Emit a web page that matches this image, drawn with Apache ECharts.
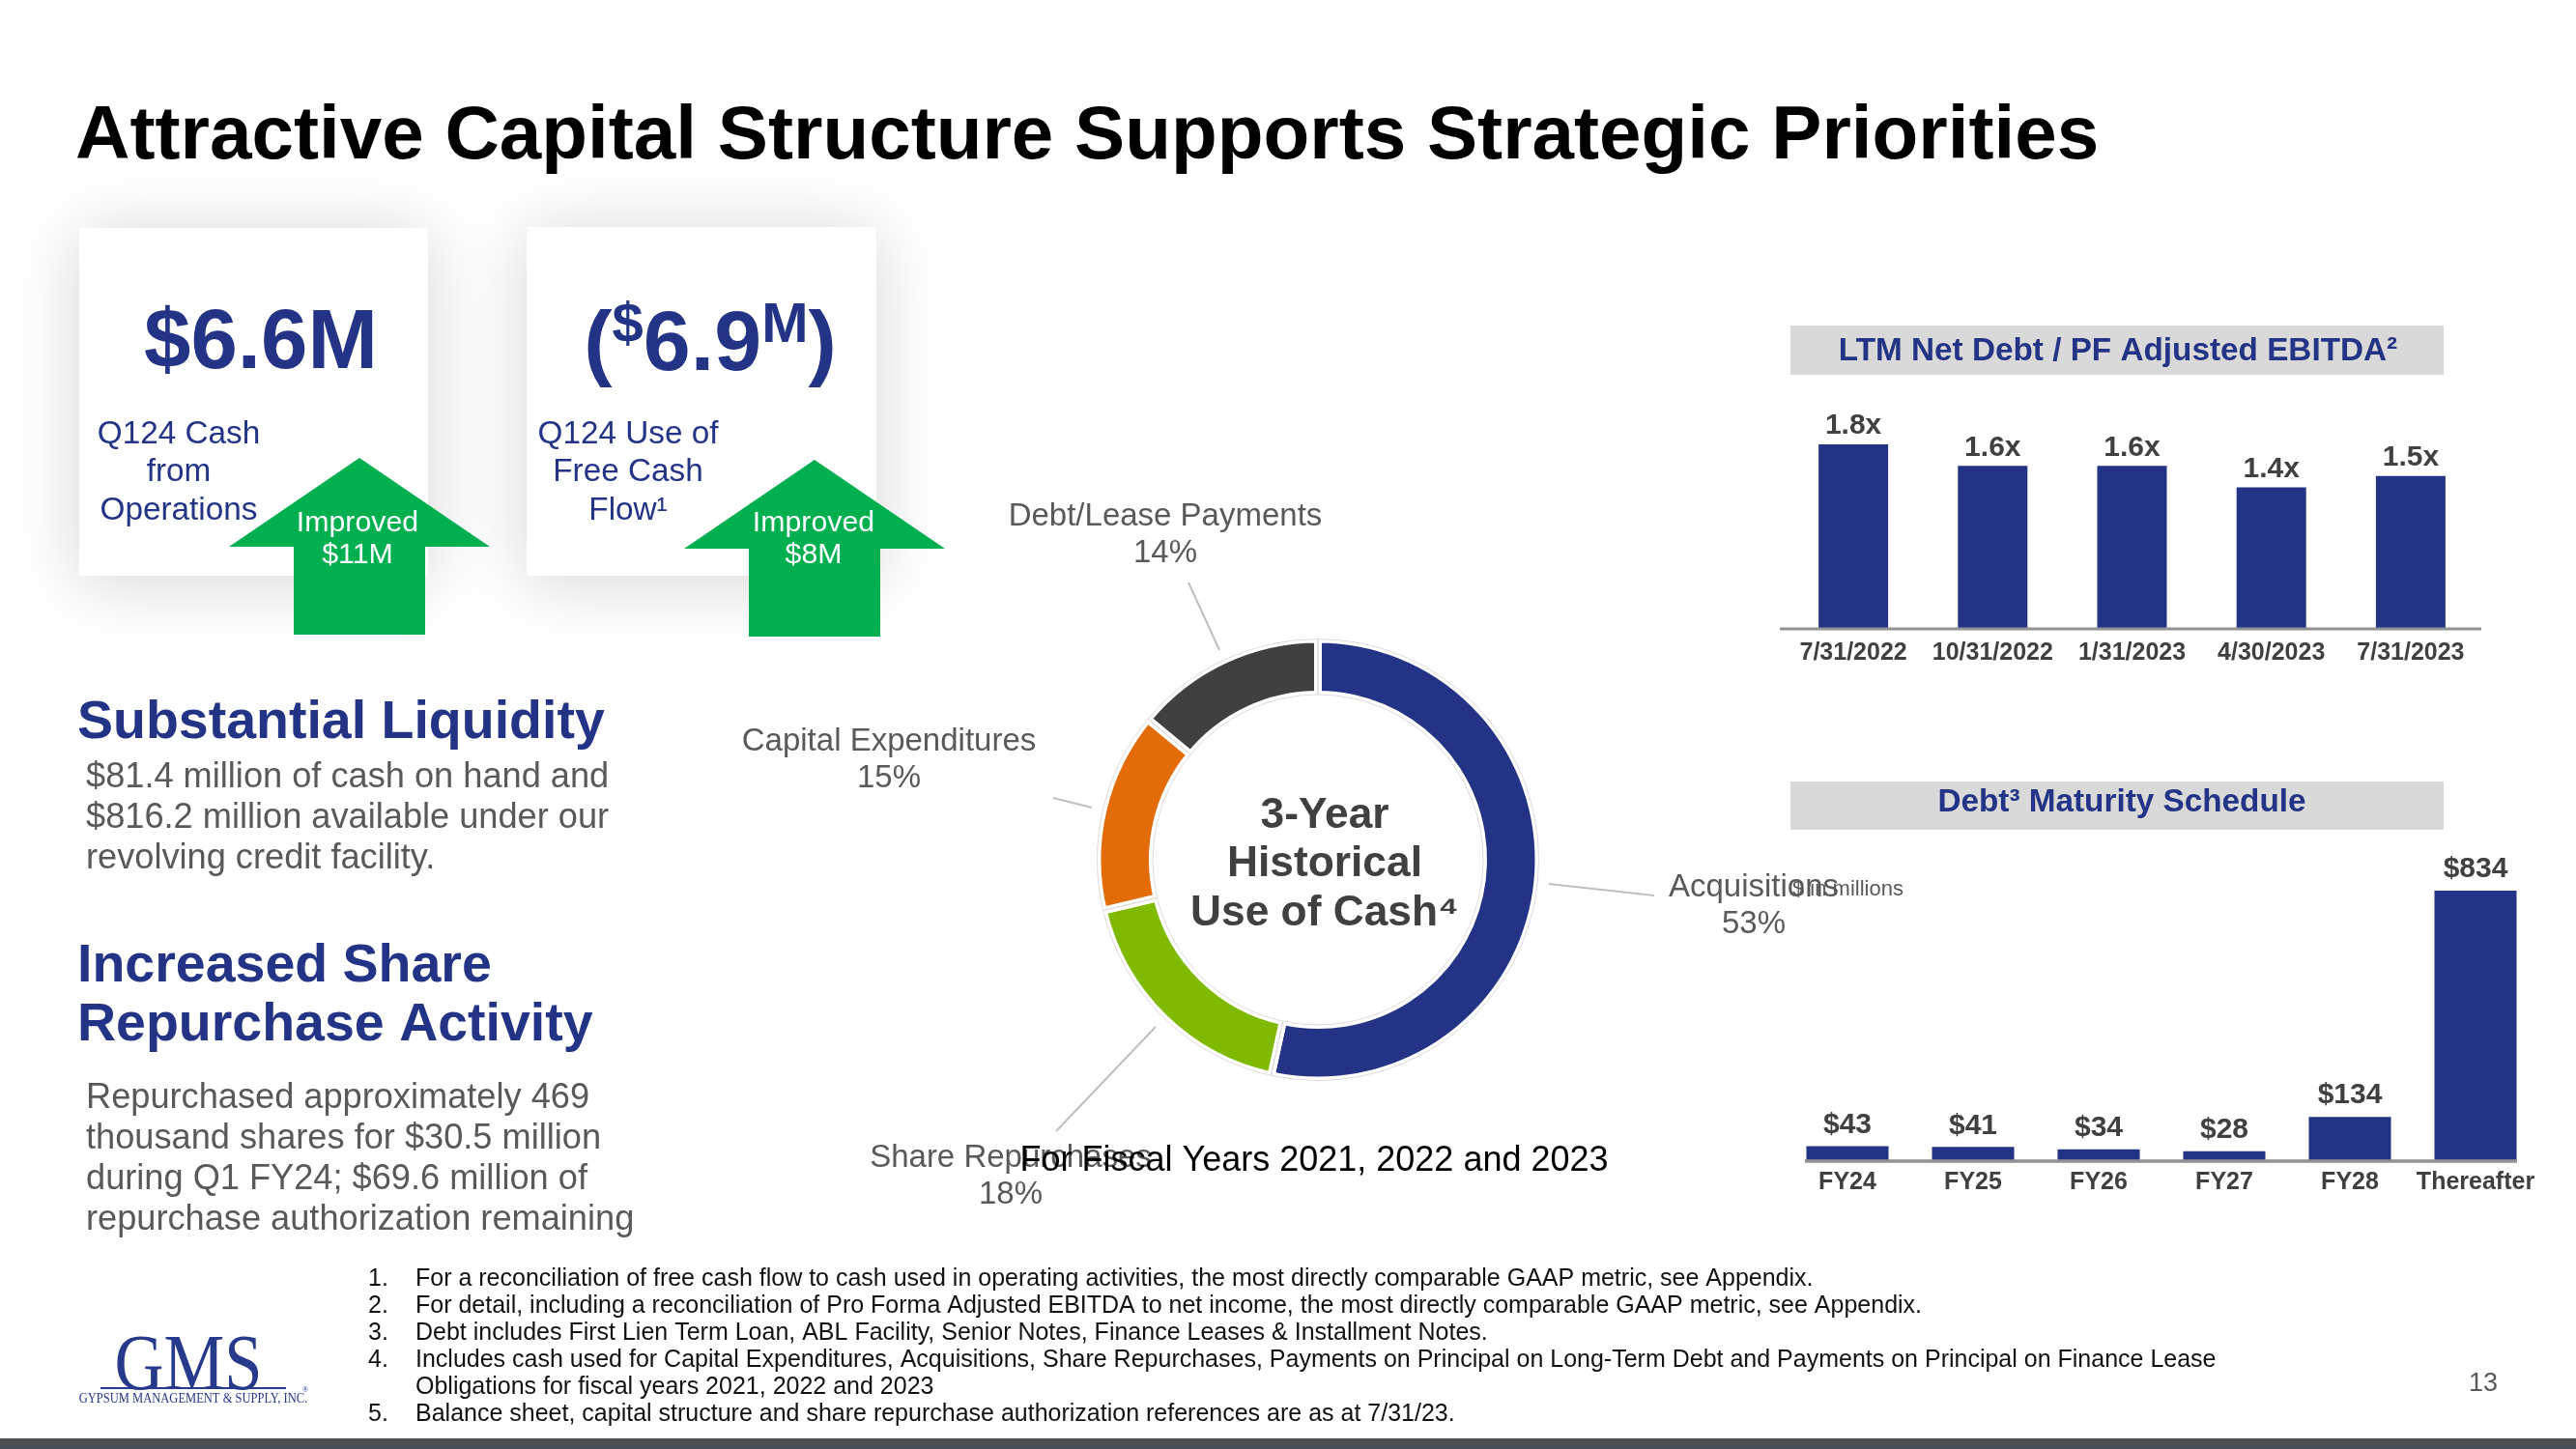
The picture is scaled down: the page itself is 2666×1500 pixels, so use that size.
<!DOCTYPE html>
<html>
<head>
<meta charset="utf-8">
<style>html,body{margin:0;padding:0;background:#fff}#c{width:2666px;height:1500px}</style>
<script src="https://cdn.jsdelivr.net/npm/echarts@6/dist/echarts.min.js"></script>
</head>
<body>
<div id="c"></div>
<script>
const leverageDates = ['7/31/2022','10/31/2022','1/31/2023','4/30/2023','7/31/2023'];
const leverageValues = [1.8,1.59,1.59,1.38,1.49];
const maturityYears = ['FY24','FY25','FY26','FY27','FY28','Thereafter'];
const maturityValues = [43,41,34,28,134,834];
const useNames = ['Acquisitions','Share Repurchases','Capital Expenditures','Debt/Lease Payments'];
const useValues = [53.4,17.9,14.7,14.0];
const useColors = ['#233385','#7fba00','#e36c09','#404040'];
const useLabelCenters = [[1815,938],[1046,1218],[920,787],[1206,554]];
const leaderLines = [[1603,915,1712,927],[1196,1063,1093,1171],[1090,826,1130,836],[1230,603,1262,673]];
const footnotes = [
 'For a reconciliation of free cash flow to cash used in operating activities, the most directly comparable GAAP metric, see Appendix.',
 'For detail, including a reconciliation of Pro Forma Adjusted EBITDA to net income, the most directly comparable GAAP metric, see Appendix.',
 'Debt includes First Lien Term Loan, ABL Facility, Senior Notes, Finance Leases & Installment Notes.',
 'Includes cash used for Capital Expenditures, Acquisitions, Share Repurchases, Payments on Principal on Long-Term Debt and Payments on Principal on Finance Lease\nObligations for fiscal years 2021, 2022 and 2023',
 'Balance sheet, capital structure and share repurchase authorization references are as at 7/31/23.'
];
const footnoteNumbers = ['1.','2.','3.','4.','','5.'];
const NAVY='#233385', GREY='#595959', DARK='#404040', SANS='"Liberation Sans"', GREEN='#00b050';

function txt(x,y,text,size,fill,opt){
  opt=opt||{};
  const el={type:'text',z:opt.z||20,style:Object.assign({x:x,y:y,text:text,
    font:(opt.weight||'normal')+' '+size+'px '+(opt.family||SANS),fill:fill,
    align:opt.align||'left',verticalAlign:opt.va||'middle',lineHeight:opt.lh||Math.round(size*1.2)},opt.extra||{})};
  if(opt.scaleX){el.x=x;el.scaleX=opt.scaleX;el.style.x=0;}
  return el;
}
function card(x,y,w,h){
  return {type:'rect',z:1,shape:{x:x,y:y,width:w,height:h},style:{fill:'#fff',shadowBlur:70,shadowColor:'rgba(0,0,0,0.17)',shadowOffsetY:6}};
}
function arrow(tipX,tipY,wingY,wingHalf,stemHalf,bottom){
  return {type:'polygon',z:5,shape:{points:[[tipX,tipY],[tipX+wingHalf,wingY],[tipX+stemHalf,wingY],[tipX+stemHalf,bottom],[tipX-stemHalf,bottom],[tipX-stemHalf,wingY],[tipX-wingHalf,wingY]]},style:{fill:GREEN}};
}
function band(x,y,w,h){return {type:'rect',z:2,shape:{x:x,y:y,width:w,height:h},style:{fill:'#d9d9d9'}};}

const graphics = [
  {type:'rect',z:2,shape:{x:0,y:1489,width:2666,height:11},style:{fill:'#4a4f54'}},
  txt(78,142,'Attractive Capital Structure Supports Strategic Priorities',78.2,'#000',{weight:'bold'}),
  card(82,236,361,360), card(545,235,362,361),
  arrow(372,474,566,135,68,657), arrow(843,476,568,135,68,659),
  txt(270,357,'$6.6M',87,NAVY,{weight:'bold',align:'center'}),
  txt(735,359,'{a|(}{s|$}{a|6.9}{s|M}{a|)}',87,NAVY,{weight:'bold',align:'center',extra:{rich:{
    a:{font:'bold 88px '+SANS,fill:NAVY,lineHeight:100,verticalAlign:'middle'},
    s:{font:'bold 58px '+SANS,fill:NAVY,lineHeight:79,verticalAlign:'top'}}}}),
  txt(185,489,'Q124 Cash\nfrom\nOperations',33.3,NAVY,{align:'center',lh:39.5}),
  txt(650,489,'Q124 Use of\nFree Cash\nFlow¹',33.3,NAVY,{align:'center',lh:39.5}),
  txt(370,558,'Improved\n$11M',30.3,'#fff',{align:'center',lh:33}),
  txt(842,558,'Improved\n$8M',30.3,'#fff',{align:'center',lh:33}),
  txt(80,748.5,'Substantial Liquidity',55.5,NAVY,{weight:'bold'}),
  txt(89,847,'$81.4 million of cash on hand and\n$816.2 million available under our\nrevolving credit facility.',36.2,GREY,{lh:42}),
  txt(80,1031.5,'Increased Share\nRepurchase Activity',55.5,NAVY,{weight:'bold',lh:61}),
  txt(89,1200,'Repurchased approximately 469\nthousand shares for $30.5 million\nduring Q1 FY24; $69.6 million of\nrepurchase authorization remaining',36.2,GREY,{lh:42}),
  txt(1371,895,'3-Year\nHistorical\nUse of Cash⁴',44.3,DARK,{weight:'bold',align:'center',lh:50.5}),
  txt(1360,1202,'For Fiscal Years 2021, 2022 and 2023',36,'#000',{align:'center',z:30}),
  txt(1855,921,'$ in millions',22,GREY),
  band(1853,337,676,51), band(1853,809,676,50),
  txt(2192,364,'LTM Net Debt / PF Adjusted EBITDA²',33.3,NAVY,{weight:'bold',align:'center'}),
  txt(2196,831,'Debt³ Maturity Schedule',33.3,NAVY,{weight:'bold',align:'center'}),
  {type:'line',z:3,shape:{x1:1842,y1:651,x2:2568,y2:651},style:{stroke:'#929292',lineWidth:3}},
  {type:'line',z:3,shape:{x1:1868,y1:1202,x2:2605,y2:1202},style:{stroke:'#929292',lineWidth:3.5}},
  txt(2570,1433,'13',27,GREY,{align:'center'}),
  txt(195,1416,'GMS',82,'#26398a',{family:'"Liberation Serif"',align:'center',scaleX:0.86}),
  {type:'line',z:3,shape:{x1:104,y1:1437,x2:296,y2:1437},style:{stroke:'#26398a',lineWidth:2}},
  txt(200,1448,'GYPSUM MANAGEMENT & SUPPLY, INC.',15,'#26398a',{family:'"Liberation Serif"',align:'center',scaleX:0.835}),
  txt(316,1439,'®',9,'#26398a',{family:'"Liberation Serif"',align:'center'})
];
leaderLines.forEach(function(l){
  graphics.push({type:'line',z:3,shape:{x1:l[0],y1:l[1],x2:l[2],y2:l[3]},style:{stroke:'#bfbfbf',lineWidth:2}});
});
let fy=1324, num=0;
footnotes.forEach(function(t){
  const lines=t.split('\n');
  lines.forEach(function(line){
    if(footnoteNumbers[num]) graphics.push(txt(381,fy,footnoteNumbers[num],25,'#111'));
    graphics.push(txt(430,fy,line,25,'#111'));
    fy+=28; num++;
  });
});

const barLabel = function(fmt,dist){return {show:true,position:'top',distance:dist,formatter:fmt,color:DARK,fontFamily:SANS,fontWeight:'bold',fontSize:30};};
const tick = function(m){return {interval:0,margin:m,color:DARK,fontFamily:SANS,fontWeight:'bold',fontSize:25};};
const pieData = useNames.map(function(n,i){return {name:n,value:useValues[i],itemStyle:{color:useColors[i]}};});

const option = {
  animation:false,
  backgroundColor:'#fff',
  grid:[
    {left:1846,top:439,width:721,height:211},
    {left:1847,top:900,width:780,height:301}
  ],
  xAxis:[
    {gridIndex:0,type:'category',data:leverageDates,axisLine:{show:false},axisTick:{show:false},axisLabel:tick(14)},
    {gridIndex:1,type:'category',data:maturityYears,axisLine:{show:false},axisTick:{show:false},axisLabel:tick(11)}
  ],
  yAxis:[
    {gridIndex:0,type:'value',min:0,max:2,show:false},
    {gridIndex:1,type:'value',min:0,max:900,show:false}
  ],
  series:[
    {type:'bar',xAxisIndex:0,yAxisIndex:0,data:leverageValues,barWidth:72,itemStyle:{color:NAVY},
      label:barLabel(function(p){return p.value.toFixed(1)+'x';},4)},
    {type:'bar',xAxisIndex:1,yAxisIndex:1,data:maturityValues,barWidth:85,itemStyle:{color:NAVY},
      label:barLabel(function(p){return '$'+p.value;},7)},
    {type:'pie',center:[1364,890],radius:[171,228.5],startAngle:90,clockwise:true,
      data:pieData,
      itemStyle:{borderColor:'#fff',borderWidth:8},
      label:{show:true,position:'outside',formatter:'{b}\n{d}%',color:GREY,fontFamily:SANS,fontSize:33,lineHeight:38,align:'center'},
      labelLine:{show:false},
      labelLayout:function(p){const c=useLabelCenters[p.dataIndex];return {x:c[0],y:c[1],align:'center',verticalAlign:'middle',hideOverlap:false};},
      percentPrecision:0,silent:true},
    {type:'pie',center:[1364,890],radius:[171,228.5],startAngle:90,clockwise:true,z:3,
      data:useNames.map(function(n,i){return {name:n,value:useValues[i]};}),
      itemStyle:{color:'rgba(0,0,0,0)',borderColor:'#dcdcdc',borderWidth:1},
      label:{show:false},labelLine:{show:false},silent:true}
  ],
  graphic:{elements:graphics}
};
const chart=echarts.init(document.getElementById('c'),null,{renderer:'canvas'});
chart.setOption(option);
</script>
</body>
</html>
